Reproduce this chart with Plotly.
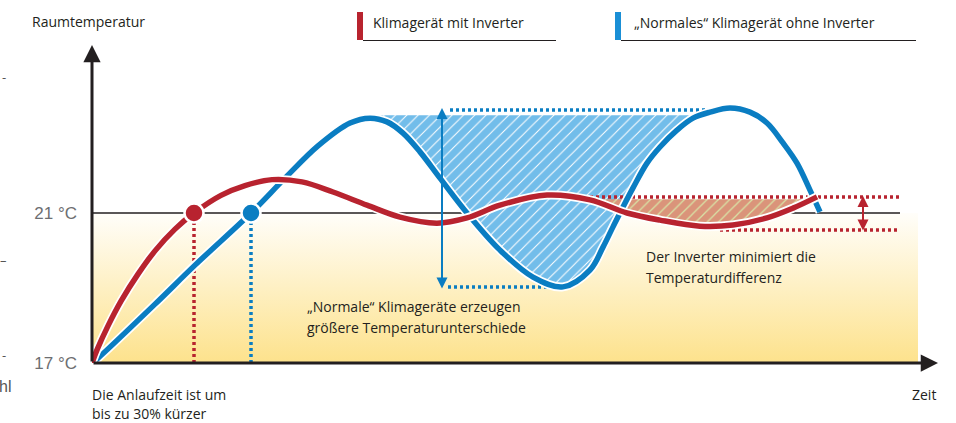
import plotly.graph_objects as go

# ---------------- data (time in arbitrary units, temperature in °C) ----------------
blue_t = [0.0, 0.6, 6.3, 10.3, 15.9, 19.3, 22.6, 25.8, 27.8, 29.5, 31.1,
          32.8, 34.8, 37.5, 40.8, 44.1, 47.1, 49.8, 51.1, 52.1, 53.1, 54.1, 55.5, 56.8, 58.5,
          60.1, 61.8, 63.8, 65.8, 67.5, 69.1, 70.5, 71.8, 72.8]
blue_T = [17.00, 17.13, 18.57, 19.61, 21.00, 21.93, 22.79, 23.40, 23.53, 23.43, 23.13,
          22.63, 21.93, 21.00, 20.01, 19.29, 19.03, 19.48, 20.09, 20.63, 21.16, 21.67, 22.33,
          22.76, 23.21, 23.53, 23.69, 23.80, 23.69, 23.40, 22.87, 22.33, 21.61, 21.03]

red_t = [0.0, 0.5, 1.6, 2.9, 4.6, 6.3, 8.3, 10.2, 12.9, 15.3, 18.0, 21.0, 24.1, 27.5, 30.8,
         34.5, 37.5, 40.8, 45.5, 49.8, 53.5, 56.8, 60.8, 64.1, 67.5, 70.1, 72.5]
red_T = [17.00, 17.35, 17.99, 18.65, 19.37, 19.99, 20.57, 21.00, 21.47, 21.73, 21.89, 21.83,
         21.56, 21.21, 20.89, 20.73, 20.87, 21.21, 21.48, 21.35, 21.00, 20.81, 20.65, 20.68,
         20.87, 21.13, 21.43]

setpoint = 21.0                 # target room temperature
start_temp = 17.0
reach_t = [10.2, 15.9]          # time to reach 21 °C: inverter, normal
blue_range = [19.03, 23.75]     # min / max of the normal unit
red_range = [20.55, 21.43]      # min / max of the inverter unit
blue_fill_level = 23.61
blue_fill_span = [27.8, 60.8]
red_fill_level = 21.37
red_fill_span = [49.8, 71.3]

ytick_vals = [17, 21]
ytick_text = ["17 °C", "21 °C"]

# ---------------- styling ----------------
RED = "#b8232f"
BLUE = "#0a7dc2"
DARK = "#231f20"
FONT = "Open Sans"

# pixel geometry helpers (layout only)
L, B = 92, 60
W, H = 956, 423
PW, PH = W - L, H - B
X_MAX = PW / 10.0
Y_MAX = 17 + PH / 37.5


def pxp(x):
    return (x - L) / PW


def pyp(y):
    return (PH - y) / PH


def dx(x):
    return (x - L) / 10.0


def dy(y):
    return 17 + (PH - y) / 37.5


fig = go.Figure()

# gradient background below the set point
fig.add_trace(go.Scatter(
    x=[0, dx(918), dx(918), 0], y=[start_temp, start_temp, setpoint, setpoint],
    fill="toself", mode="lines", line=dict(width=0),
    fillgradient=dict(type="vertical", colorscale=[[0, "#fde28c"], [1, "#fffefa"]]),
    hoverinfo="skip", showlegend=False))

# set point line
fig.add_trace(go.Scatter(x=[0, dx(900)], y=[setpoint, setpoint], mode="lines",
                         line=dict(color=DARK, width=1.5), hoverinfo="skip", showlegend=False))

# blue hatched area (between the curve and its first peak level)
bi = [i for i, t in enumerate(blue_t) if blue_fill_span[0] <= t <= blue_fill_span[1]]
fig.add_trace(go.Scatter(x=blue_fill_span, y=[blue_fill_level] * 2, mode="lines",
                         line=dict(width=0), hoverinfo="skip", showlegend=False))
fig.add_trace(go.Scatter(x=[blue_t[i] for i in bi], y=[blue_T[i] for i in bi], mode="lines",
                         line=dict(width=0, shape="spline"), fill="tonexty",
                         fillpattern=dict(shape="/", bgcolor="#72bdea", fgcolor="#ffffff",
                                          size=8, solidity=0.13, fillmode="replace"),
                         hoverinfo="skip", showlegend=False))

# red hatched area
ri = [i for i, t in enumerate(red_t) if red_fill_span[0] <= t <= red_fill_span[1]]
fig.add_trace(go.Scatter(x=red_fill_span, y=[red_fill_level] * 2, mode="lines",
                         line=dict(width=0), hoverinfo="skip", showlegend=False))
fig.add_trace(go.Scatter(x=[red_t[i] for i in ri], y=[red_T[i] for i in ri], mode="lines",
                         line=dict(width=0, shape="spline"), fill="tonexty",
                         fillpattern=dict(shape="/", bgcolor="#da947a", fgcolor="#d8e3a6",
                                          size=8, solidity=0.16, fillmode="replace"),
                         hoverinfo="skip", showlegend=False))

# dotted reference lines
dot = dict(width=3.5, dash="3px,3px")
fig.add_trace(go.Scatter(x=[dx(450), dx(707)], y=[blue_range[1]] * 2, mode="lines",
                         line=dict(color=BLUE, **dot), hoverinfo="skip", showlegend=False))
fig.add_trace(go.Scatter(x=[dx(448), dx(548)], y=[blue_range[0]] * 2, mode="lines",
                         line=dict(color=BLUE, **dot), hoverinfo="skip", showlegend=False))
fig.add_trace(go.Scatter(x=[dx(590), dx(900)], y=[red_range[1]] * 2, mode="lines",
                         line=dict(color=RED, **dot), hoverinfo="skip", showlegend=False))
fig.add_trace(go.Scatter(x=[dx(720), dx(900)], y=[red_range[0]] * 2, mode="lines",
                         line=dict(color=RED, **dot), hoverinfo="skip", showlegend=False))
fig.add_trace(go.Scatter(x=[reach_t[0]] * 2, y=[start_temp, setpoint], mode="lines",
                         line=dict(color=RED, **dot), hoverinfo="skip", showlegend=False))
fig.add_trace(go.Scatter(x=[reach_t[1]] * 2, y=[start_temp, setpoint], mode="lines",
                         line=dict(color=BLUE, **dot), hoverinfo="skip", showlegend=False))

# curves with white halo
for t, T, c in [(blue_t, blue_T, BLUE), (red_t, red_T, RED)]:
    fig.add_trace(go.Scatter(x=t, y=T, mode="lines", line=dict(color="white", width=9, shape="spline"),
                             hoverinfo="skip", showlegend=False))
    fig.add_trace(go.Scatter(x=t, y=T, mode="lines", line=dict(color=c, width=5.5, shape="spline"),
                             hoverinfo="skip", showlegend=False))

# points where 21 °C is reached
fig.add_trace(go.Scatter(x=reach_t, y=[setpoint, setpoint], mode="markers",
                         marker=dict(size=19, color=[RED, BLUE], line=dict(color="white", width=2.5)),
                         hoverinfo="skip", showlegend=False, cliponaxis=False))

ann = []
# axes arrows
ann.append(dict(x=0, y=dy(45), ax=0, ay=start_temp, xref="x", yref="y", axref="x", ayref="y",
                text="", showarrow=True, arrowhead=2, arrowsize=1.15, arrowwidth=3, arrowcolor=DARK))
ann.append(dict(x=dx(938), y=start_temp, ax=0, ay=start_temp, xref="x", yref="y", axref="x", ayref="y",
                text="", showarrow=True, arrowhead=2, arrowsize=1.15, arrowwidth=3, arrowcolor=DARK))
# double arrows
ann.append(dict(x=dx(442), y=dy(108), ax=dx(442), ay=dy(290), xref="x", yref="y", axref="x", ayref="y",
                text="", showarrow=True, arrowside="end+start", arrowhead=2, startarrowhead=2,
                arrowsize=1.1, startarrowsize=1.1, arrowwidth=2, arrowcolor=BLUE))
ann.append(dict(x=dx(863), y=dy(196), ax=dx(863), ay=dy(232), xref="x", yref="y", axref="x", ayref="y",
                text="", showarrow=True, arrowside="end+start", arrowhead=2, startarrowhead=2,
                arrowsize=1.1, startarrowsize=1.1, arrowwidth=2, arrowcolor=RED))


def txt(x, y, s, anchor="left", size=14, color=DARK, family=FONT):
    ann.append(dict(x=pxp(x), y=pyp(y), xref="paper", yref="paper", text=s, showarrow=False,
                    xanchor=anchor, yanchor="middle", font=dict(family=family, size=size, color=color)))


txt(30, 22, "Raumtemperatur")
txt(371, 23, "Klimagerät mit Inverter")
txt(632, 23, "„Normales“ Klimagerät ohne Inverter")
txt(305, 306, "„Normale“ Klimageräte erzeugen")
txt(305, 327, "größere Temperaturunterschiede")
txt(644, 256, "Der Inverter minimiert die")
txt(644, 277, "Temperaturdifferenz")
txt(90, 394, "Die Anlaufzeit ist um")
txt(90, 413, "bis zu 30% kürzer")
txt(938, 394, "Zeit", anchor="right")
# cropped fragments at left page edge
txt(0, 77, "-", size=13, color="#555")
txt(-2, 260, "–", size=13, color="#555")
txt(0, 355, "-", size=13, color="#555")
txt(-3, 386, "hl", size=16, color="#555", family="Liberation Sans")

shapes = [
    dict(type="rect", xref="paper", yref="paper", x0=pxp(357), x1=pxp(363), y0=pyp(40), y1=pyp(12),
         fillcolor=RED, line=dict(width=0)),
    dict(type="line", xref="paper", yref="paper", x0=pxp(363), x1=pxp(556), y0=pyp(40.5), y1=pyp(40.5),
         line=dict(color=DARK, width=1)),
    dict(type="rect", xref="paper", yref="paper", x0=pxp(615), x1=pxp(621), y0=pyp(40), y1=pyp(12),
         fillcolor="#1a8fd6", line=dict(width=0)),
    dict(type="line", xref="paper", yref="paper", x0=pxp(621), x1=pxp(916), y0=pyp(40.5), y1=pyp(40.5),
         line=dict(color=DARK, width=1)),
]

fig.update_layout(
    width=W, height=H, margin=dict(l=L, r=0, t=0, b=B),
    paper_bgcolor="white", plot_bgcolor="rgba(0,0,0,0)",
    xaxis=dict(range=[0, X_MAX], visible=False, fixedrange=True),
    yaxis=dict(range=[17, Y_MAX], showgrid=False, zeroline=False, showline=False, ticks="",
               tickvals=ytick_vals, ticktext=ytick_text, ticklabelstandoff=14,
               tickfont=dict(family="Liberation Sans", size=17, color="#6d6e71"), fixedrange=True),
    annotations=ann, shapes=shapes, showlegend=False,
)

fig.write_html("out.html", config={"displayModeBar": False},
               post_script="document.body.style.margin='0';document.body.style.overflow='hidden';")
